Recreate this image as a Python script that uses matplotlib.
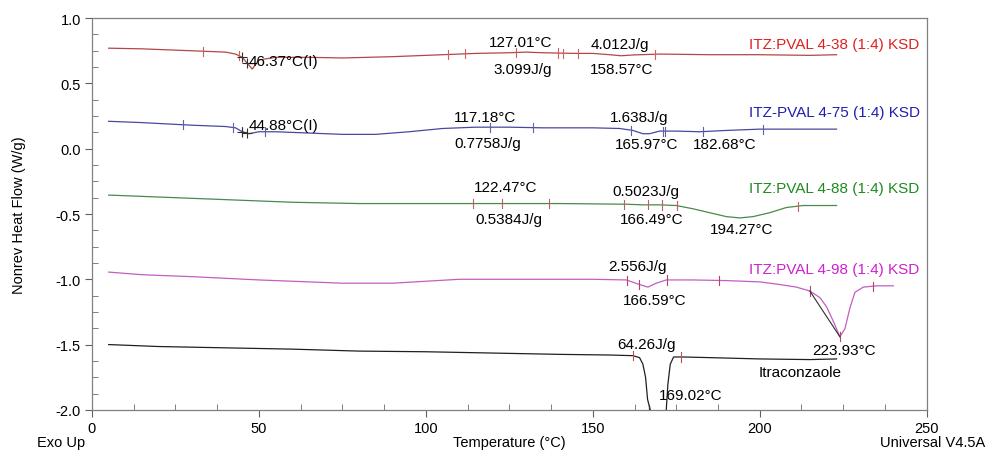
import numpy as np
import matplotlib
matplotlib.use('Agg')
import matplotlib.pyplot as plt
from matplotlib.ticker import MultipleLocator, FormatStrFormatter

plt.rcParams['font.family'] = ['Liberation Sans', 'DejaVu Sans']
plt.rcParams['axes.unicode_minus'] = False

# ==== MDSC nonreversing heat flow, temperature (°C) vs W/g ====
T_438 = [5, 15, 25, 35, 40, 43, 45, 46.5, 48, 50, 55, 65, 75, 90, 105, 115, 125, 130, 135,
         145, 150, 155, 158.5, 162, 170, 185, 200, 215, 223]
H_438 = [0.77, 0.765, 0.755, 0.745, 0.74, 0.725, 0.70, 0.655, 0.61, 0.68, 0.70, 0.70, 0.695,
         0.705, 0.72, 0.73, 0.735, 0.74, 0.735, 0.73, 0.73, 0.72, 0.712, 0.718, 0.725, 0.72,
         0.72, 0.715, 0.72]

T_475 = [5, 15, 30, 40, 43, 45, 47, 50, 55, 65, 75, 85, 95, 105, 115, 125, 135, 150, 158,
         162, 165, 167, 170, 175, 182, 190, 200, 210, 223]
H_475 = [0.21, 0.20, 0.18, 0.17, 0.16, 0.13, 0.115, 0.13, 0.13, 0.12, 0.11, 0.11, 0.13, 0.155,
         0.165, 0.165, 0.16, 0.16, 0.155, 0.14, 0.115, 0.115, 0.135, 0.135, 0.13, 0.14, 0.15,
         0.15, 0.15]

T_488 = [5, 20, 40, 60, 80, 100, 120, 140, 160, 165, 170, 175, 180, 185, 190, 194, 198, 203,
         208, 213, 223]
H_488 = [-0.355, -0.37, -0.39, -0.41, -0.42, -0.42, -0.42, -0.42, -0.425, -0.43, -0.43, -0.435,
         -0.46, -0.49, -0.52, -0.53, -0.52, -0.49, -0.45, -0.435, -0.435]

T_498 = [5, 15, 30, 50, 65, 75, 90, 100, 110, 130, 150, 160, 164, 166.5, 169, 172, 180, 190,
         200, 206, 211, 215, 218, 220, 222, 224, 225.5, 227, 228.5, 231, 235, 240]
H_498 = [-0.945, -0.965, -0.98, -1.005, -1.02, -1.03, -1.03, -1.015, -1.0, -1.0, -1.0, -1.005,
         -1.04, -1.06, -1.03, -1.005, -1.005, -1.01, -1.02, -1.04, -1.06, -1.09, -1.14, -1.21,
         -1.32, -1.44, -1.38, -1.22, -1.10, -1.06, -1.05, -1.05]

T_itz = [5, 20, 40, 60, 80, 100, 120, 140, 155, 162, 164, 165, 165.8, 166.4, 167.2, 169.5,
         172, 172.5, 173.2, 174.2, 177, 185, 200, 215, 223]
H_itz = [-1.50, -1.515, -1.525, -1.535, -1.55, -1.555, -1.565, -1.575, -1.58, -1.585, -1.60,
         -1.65, -1.75, -1.92, -2.0, -2.8, -2.0, -1.8, -1.65, -1.595, -1.595, -1.60, -1.61,
         -1.615, -1.61]

# integration / analysis limits marked on each curve
TICKS_438 = [33.3, 44, 106.6, 111.7, 127, 139.5, 141, 145.5, 168.6]
TICKS_475 = [27.2, 42.2, 44.8, 51.8, 119.2, 132, 161.4, 171, 171.6, 183, 200.9]
TICKS_488 = [114, 122.7, 137, 159.3, 166.5, 170.6, 175.2, 211.4]
TICKS_498 = [160.2, 163.8, 172.2, 187.8, 215, 224, 233.8]
TICKS_ITZ = [162, 176.3]

SAMPLE_NAMES = ['ITZ:PVAL 4-38 (1:4) KSD', 'ITZ-PVAL 4-75 (1:4) KSD',
                'ITZ:PVAL 4-88 (1:4) KSD', 'ITZ:PVAL 4-98 (1:4) KSD']
NAME_Y = [0.80, 0.28, -0.30, -0.92]
LINE_COLORS = ['#b04848', '#4848a0', '#4a8a4a', '#c060c0', '#202020']
TICK_COLORS = ['#d06060', '#6060b0', '#c06060', '#c04060', '#c05050']
NAME_COLORS = ['#e02020', '#2020b0', '#208a20', '#d020d0']

# peak / transition annotations: text, temperature, heat flow
LABELS = [
    ('127.01°C', 128.4, 0.816), ('3.099J/g', 129, 0.61),
    ('4.012J/g', 158, 0.80), ('158.57°C', 158.7, 0.61),
    ('117.18°C', 117.7, 0.24), ('0.7758J/g', 118.6, 0.045),
    ('1.638J/g', 164, 0.24), ('165.97°C', 166, 0.035), ('182.68°C', 189.5, 0.035),
    ('122.47°C', 124, -0.29), ('0.5384J/g', 125, -0.54),
    ('0.5023J/g', 166, -0.32), ('166.49°C', 167.7, -0.54), ('194.27°C', 194.7, -0.615),
    ('2.556J/g', 163.4, -0.90), ('166.59°C', 168.5, -1.16), ('223.93°C', 225.4, -1.54),
    ('64.26J/g', 166, -1.495), ('169.02°C', 179.4, -1.89), ('Itraconzaole', 212, -1.71),
]
TG_LABELS = [('46.37°C(I)', 46.8, 0.67), ('44.88°C(I)', 46.8, 0.18)]

curves = [
    (T_438, H_438, TICKS_438),
    (T_475, H_475, TICKS_475),
    (T_488, H_488, TICKS_488),
    (T_498, H_498, TICKS_498),
    (T_itz, H_itz, TICKS_ITZ),
]

fig, ax = plt.subplots(figsize=(9.89, 4.56), dpi=100)
fig.subplots_adjust(left=0.093, right=0.937, bottom=0.099, top=0.958)

for (T, H, ticks), lc, tc in zip(curves, LINE_COLORS, TICK_COLORS):
    ax.plot(T, H, color=lc, lw=0.9)
    for t in ticks:
        h = np.interp(t, T, H)
        ax.plot([t, t], [h - 0.035, h + 0.035], color=tc, lw=0.8)

# glass transition crosshairs
for T, H in [(T_438, H_438), (T_475, H_475)]:
    for t in (45.0, 46.4):
        ax.plot(t, np.interp(t, T, H), marker='+', ms=7, mew=0.8, color='#303030')

# onset tangent of the 4-98 melt, and the off-scale itraconazole melt
ax.plot([215, 224], [np.interp(215, T_498, H_498), np.interp(224, T_498, H_498)],
        color='#303030', lw=0.8)
ax.plot([166.8, 166.8], [np.interp(166.8, T_itz, H_itz), -2.0], color='#303030',
        lw=0.9, ls=(0, (5, 2)))

for text, t, h in LABELS:
    ax.text(t, h, text, ha='center', va='center', fontsize=11)
for text, t, h in TG_LABELS:
    ax.text(t, h, text, ha='left', va='center', fontsize=11)
for name, y, c in zip(SAMPLE_NAMES, NAME_Y, NAME_COLORS):
    ax.text(247.9, y, name, ha='right', va='center', fontsize=11, color=c)

ax.set_xlim(0, 250)
ax.set_ylim(-2.0, 1.0)
ax.xaxis.set_major_locator(MultipleLocator(50))
ax.xaxis.set_minor_locator(MultipleLocator(12.5))
ax.yaxis.set_major_locator(MultipleLocator(0.5))
ax.yaxis.set_minor_locator(MultipleLocator(0.125))
ax.yaxis.set_major_formatter(FormatStrFormatter('%.1f'))
ax.tick_params(which='major', direction='out', length=5, width=0.8, color='#606060',
               labelsize=10.5, pad=3)
ax.tick_params(which='minor', direction='in', length=4, width=0.7, color='#808080')
for sp in ax.spines.values():
    sp.set_color('#808080')
    sp.set_linewidth(0.9)

ax.set_ylabel('Nonrev Heat Flow (W/g)', fontsize=10.5, labelpad=21)
fig.text(0.515, 0.028, 'Temperature (°C)', ha='center', va='center', fontsize=10.5)
fig.text(0.037, 0.028, 'Exo Up', ha='left', va='center', fontsize=10.5)
fig.text(0.996, 0.028, 'Universal V4.5A', ha='right', va='center', fontsize=10.5)

plt.savefig('out.png', dpi=100)
